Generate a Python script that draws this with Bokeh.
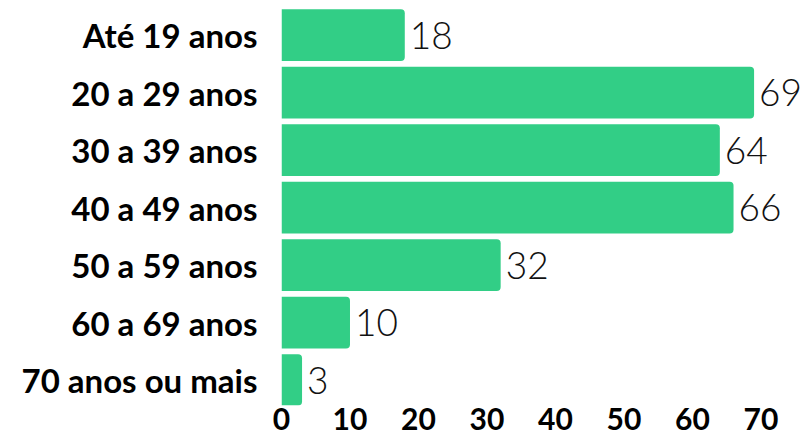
from bokeh.plotting import figure
from bokeh.models import ColumnDataSource, Range1d, FixedTicker
from bokeh.core.properties import value
from bokeh.embed import file_html
from bokeh.resources import INLINE

categories = ["Até 19 anos", "20 a 29 anos", "30 a 39 anos", "40 a 49 anos",
              "50 a 59 anos", "60 a 69 anos", "70 anos ou mais"]
counts = [18, 69, 64, 66, 32, 10, 3]
x_ticks = [0, 10, 20, 30, 40, 50, 60, 70]

positions = list(range(len(categories)))
source = ColumnDataSource(dict(
    y=positions,
    count=counts,
    label=[str(c) for c in counts],
))

p = figure(width=807, height=445, output_backend="svg", toolbar_location=None,
           x_range=Range1d(0, 76.8), y_range=Range1d(6.443, -0.6),
           min_border_left=281, min_border_right=0, min_border_top=0,
           min_border_bottom=40)
p.outline_line_color = None
p.xgrid.visible = False
p.ygrid.visible = False
p.background_fill_color = "white"
p.border_fill_color = "white"

p.hbar(y="y", right="count", left=0, height=0.9, source=source,
       fill_color="#32CE86", line_color=None, border_radius=(0, 4, 4, 0))

p.text(x="count", y="y", text="label", source=source, x_offset=5,
       text_baseline="middle", text_align="left",
       text_font=value("Lato Light, Lato"), text_font_size="37px",
       text_color="#111111")

xa = p.xaxis[0]
xa.ticker = FixedTicker(ticks=x_ticks)
xa.axis_line_color = None
xa.major_tick_line_color = None
xa.minor_tick_line_color = None
xa.major_tick_out = 0
xa.major_tick_in = 0
xa.major_label_standoff = 2
xa.major_label_text_font = "Lato"
xa.major_label_text_font_style = "bold"
xa.major_label_text_font_size = "30px"
xa.major_label_text_color = "black"

ya = p.yaxis[0]
ya.ticker = FixedTicker(ticks=positions)
ya.major_label_overrides = {i: c for i, c in zip(positions, categories)}
ya.axis_line_color = None
ya.major_tick_line_color = None
ya.minor_tick_line_color = None
ya.major_tick_out = 0
ya.major_tick_in = 0
ya.major_label_standoff = 24
ya.major_label_text_font = "Lato"
ya.major_label_text_font_style = "bold"
ya.major_label_text_font_size = "33px"
ya.major_label_text_color = "black"

open("out.html", "w").write(file_html(p, INLINE))
